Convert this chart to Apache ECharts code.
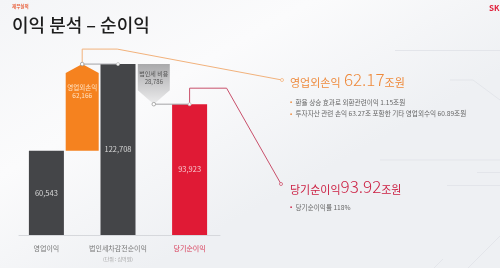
<!DOCTYPE html>
<html><head><meta charset="utf-8">
<script src="https://cdn.jsdelivr.net/npm/echarts@6/dist/echarts.min.js"></script>
<style>html,body{margin:0;padding:0;}#c{width:500px;height:268px;}</style>
</head><body><div id="c"></div>
<script>
// ---- data ----
const categories = ['영업이익', '영업외손익', '법인세차감전순이익', '법인세 비용', '당기순이익'];
const totals = [60543, null, 122708, null, 93923];      // solid bars
const deltas = [null, 62166, null, -28786, null];       // floating steps
const unitLabel = '(단위 : 십억원)';
const headline1 = ['영업외손익', '62.17', '조원'];
const bullets1 = ['환율 상승 효과로 외환관련이익 1.15조원', '투자자산 관련 손익 63.27조 포함한 기타 영업외수익 60.89조원'];
const headline2 = ['당기순이익', '93.92', '조원'];
const bullets2 = ['당기순이익률 118%'];

const FONT = '"Noto Sans CJK KR", "Noto Sans", sans-serif';
const fmt = v => String(Math.abs(v)).replace(/\B(?=(\d{3})+(?!\d))/g, ',');

// derived data for library-drawn marks
const barData = totals.map((v, i) => v == null ? '-' : {
  value: v,
  itemStyle: { color: i === 4 ? '#e01a35' : '#444548' },
  label: { color: i === 4 ? '#f7c9d0' : '#d8d8d8' }
});
// floating step: [cat, low, high, delta, name]
const stepData = [];
deltas.forEach((d, i) => {
  if (d == null) return;
  const prev = totals[i - 1], next = totals[i + 1];
  stepData.push([i, Math.min(prev, next), Math.max(prev, next), d, categories[i]]);
});
// connectors between step end and next bar: [fromCat, value, toCat]
const connData = [[1, totals[2], 2], [3, totals[4], 4]];
// callouts: [cat, value, colorIndex]
const calloutData = [[1, totals[2], 0], [4, totals[4], 1]];
const calloutEnds = [[282, 80], [281, 184]];
const calloutColors = ['#f2b27c', '#c9506b'];

const chart = echarts.init(document.getElementById('c'), null, { renderer: 'canvas' });

const deco = '#e3e5ea';
const option = {
  animation: false,
  backgroundColor: { type: 'linear', x: 0, y: 0, x2: 0.3, y2: 1, colorStops: [{ offset: 0, color: '#f4f5f7' }, { offset: 0.5, color: '#fbfbfc' }, { offset: 1, color: '#eef0f3' }] },
  grid: [
    { left: 28.5, right: 292.5, top: 40, bottom: 33 },
    { left: 19, right: 280, top: 40, bottom: 33 }
  ],
  xAxis: [
    {
      type: 'category', data: categories, gridIndex: 0,
      axisLine: { show: false }, axisTick: { show: false },
      axisLabel: {
        interval: 0, margin: 10,
        formatter: (v, i) => i % 2 === 1 ? '' : (i === 4 ? '{r|' + v + '}' : '{g|' + v + '}'),
        rich: {
          g: { color: '#777', fontSize: 7, fontFamily: FONT },
          r: { color: '#d83a57', fontSize: 7, fontFamily: FONT }
        }
      }
    },
    {
      type: 'category', data: [''], gridIndex: 1,
      axisLine: { show: true, lineStyle: { color: '#d6d8dc', width: 1 } },
      axisTick: { show: false }, axisLabel: { show: false }
    }
  ],
  yAxis: [
    { type: 'value', min: 0, max: 140000, gridIndex: 0, show: false },
    { type: 'value', gridIndex: 1, show: false }
  ],
  series: [
    { type: 'bar', xAxisIndex: 1, yAxisIndex: 1, data: [], silent: true },
    {
      type: 'bar', data: barData, barWidth: 35, z: 3,
      label: { show: true, position: 'inside', fontSize: 7.5, fontFamily: FONT, formatter: p => fmt(p.value) }
    },
    {
      type: 'custom', data: stepData, z: 3,
      encode: { x: 0, y: [1, 2] },
      renderItem: (params, api) => {
        const c = api.value(0);
        const lo = api.coord([c, api.value(1)]);
        const hi = api.coord([c, api.value(2)]);
        const x = lo[0];
        const d = api.value(3);
        const txt = api.value(4) + '\n' + fmt(d);
        if (d > 0) {
          const hw = 16.5;
          return { type: 'group', children: [
            { type: 'polygon', shape: { points: [[x - hw, lo[1]], [x - hw, hi[1] + 9], [x, hi[1]], [x + hw, hi[1] + 9], [x + hw, lo[1]]] }, style: { fill: '#f5821f' } },
            { type: 'text', x: x, y: hi[1] + 27, style: { text: '영업외손익\n' + fmt(d), fill: '#ffe2c2', font: '6.5px ' + FONT, align: 'center', verticalAlign: 'middle', textAlign: 'center', textVerticalAlign: 'middle', lineHeight: 8 } }
          ] };
        } else {
          const hw = 16;
          return { type: 'group', children: [
            { type: 'polygon', shape: { points: [[x - hw, hi[1]], [x + hw, hi[1]], [x + hw, lo[1] - 14], [x, lo[1]], [x - hw, lo[1] - 14]] },
              style: { fill: { type: 'linear', x: 0, y: 0, x2: 0, y2: 1, colorStops: [{ offset: 0, color: '#a9a9ab' }, { offset: 1, color: '#ededee' }] } } },
            { type: 'text', x: x, y: hi[1] + 14, style: { text: txt, fill: '#555', font: '6px ' + FONT, align: 'center', verticalAlign: 'middle', textAlign: 'center', textVerticalAlign: 'middle', lineHeight: 8 } }
          ] };
        }
      }
    },
    {
      type: 'custom', data: connData, z: 5,
      encode: { x: [0, 2], y: 1 },
      renderItem: (params, api) => {
        const a = api.coord([api.value(0), api.value(1)]);
        const b = api.coord([api.value(2), api.value(1)]);
        return { type: 'group', children: [
          { type: 'line', shape: { x1: a[0], y1: a[1], x2: b[0], y2: b[1] }, style: { stroke: '#a3a3a6', lineWidth: 1 } },
          { type: 'circle', shape: { cx: a[0], cy: a[1], r: 1.8 }, style: { fill: '#fff', stroke: '#999', lineWidth: 0.8 } },
          { type: 'circle', shape: { cx: b[0], cy: b[1], r: 1.5 }, style: { fill: '#fff', stroke: '#bbb', lineWidth: 0.8 } }
        ] };
      }
    },
    {
      type: 'custom', data: calloutData, z: 4,
      encode: { x: 0, y: 1 },
      renderItem: (params, api) => {
        const a = api.coord([api.value(0), api.value(1)]);
        const k = api.value(2);
        const e = calloutEnds[k];
        const up = k === 0 ? 15 : 16, right = k === 0 ? 35 : 37;
        const col = calloutColors[k];
        return { type: 'group', children: [
          { type: 'polyline', shape: { points: [[a[0], a[1]], [a[0], a[1] - up], [a[0] + right, a[1] - up], e] }, style: { stroke: col, lineWidth: 1, fill: null } },
          { type: 'circle', shape: { cx: e[0], cy: e[1], r: 1.5 }, style: { fill: '#fff', stroke: col, lineWidth: 0.8 } }
        ] };
      }
    }
  ],
  graphic: [
    // faint decorative lines
    { type: 'line', shape: { x1: 395, y1: 50.5, x2: 500, y2: 50.5 }, style: { stroke: deco, lineWidth: 1 }, z: -1 },
    { type: 'polyline', shape: { points: [[450, 80], [473, 80], [500, 100]] }, style: { stroke: deco, lineWidth: 1, fill: null }, z: -1 },
    { type: 'line', shape: { x1: 380, y1: 160, x2: 500, y2: 160 }, style: { stroke: deco, lineWidth: 1 }, z: -1 },
    { type: 'line', shape: { x1: 477, y1: 172.5, x2: 500, y2: 172.5 }, style: { stroke: deco, lineWidth: 1 }, z: -1 },
    { type: 'line', shape: { x1: 447, y1: 185.5, x2: 500, y2: 185.5 }, style: { stroke: deco, lineWidth: 1 }, z: -1 },
    { type: 'line', shape: { x1: 500, y1: 236, x2: 468, y2: 268 }, style: { stroke: deco, lineWidth: 1 }, z: -1 },
    { type: 'line', shape: { x1: 443, y1: 259, x2: 434, y2: 268 }, style: { stroke: deco, lineWidth: 1 }, z: -1 },
    // header
    { type: 'text', x: 12, y: 6, style: { text: '재무실적', fill: '#e8603c', font: 'bold 4.5px ' + FONT, verticalAlign: 'middle', textVerticalAlign: 'middle' } },
    { type: 'text', x: 12, y: 25, style: { text: '이익 분석 – 순이익', fill: '#1e1e1e', font: '500 18px ' + FONT, verticalAlign: 'middle', textVerticalAlign: 'middle' } },
    { type: 'text', x: 489, y: 8, style: { text: 'SK', fill: '#e1203c', font: 'bold 8px ' + FONT, verticalAlign: 'middle', textVerticalAlign: 'middle' } },
    // unit
    { type: 'text', x: 118, y: 259, style: { text: unitLabel, fill: '#a0a0a0', font: '5px ' + FONT, align: 'center', textAlign: 'center', verticalAlign: 'middle', textVerticalAlign: 'middle' } },
    // right side headlines
    { type: 'text', x: 290, y: 78, style: {
        text: '{a|' + headline1[0] + '} {b|' + headline1[1] + '}{a|' + headline1[2] + '}', verticalAlign: 'middle', textVerticalAlign: 'middle',
        rich: { a: { fill: '#ee8a3c', color: '#ee8a3c', font: '11px ' + FONT, verticalAlign: 'bottom', lineHeight: 20 }, b: { fill: '#ee8a3c', color: '#ee8a3c', font: '300 17px ' + FONT, verticalAlign: 'bottom', lineHeight: 20 } } } },
    { type: 'text', x: 290, y: 102, style: { text: '{d|•} {t|' + bullets1[0] + '}', verticalAlign: 'middle', textVerticalAlign: 'middle',
        rich: { d: { fill: '#ee8a3c', color: '#ee8a3c', font: '6.5px ' + FONT }, t: { fill: '#666', color: '#666', font: '6.6px ' + FONT } } } },
    { type: 'text', x: 290, y: 113.5, style: { text: '{d|•} {t|' + bullets1[1] + '}', verticalAlign: 'middle', textVerticalAlign: 'middle',
        rich: { d: { fill: '#ee8a3c', color: '#ee8a3c', font: '6.5px ' + FONT }, t: { fill: '#666', color: '#666', font: '6.6px ' + FONT } } } },
    { type: 'text', x: 290, y: 185, style: {
        text: '{a|' + headline2[0] + '}{b|' + headline2[1] + '}{a|' + headline2[2] + '}', verticalAlign: 'middle', textVerticalAlign: 'middle',
        rich: { a: { fill: '#cc2043', color: '#cc2043', font: '11px ' + FONT, verticalAlign: 'bottom', lineHeight: 20 }, b: { fill: '#cc2043', color: '#cc2043', font: '300 17px ' + FONT, verticalAlign: 'bottom', lineHeight: 20 } } } },
    { type: 'text', x: 290, y: 207, style: { text: '{d|•} {t|' + bullets2[0] + '}', verticalAlign: 'middle', textVerticalAlign: 'middle',
        rich: { d: { fill: '#cc2043', color: '#cc2043', font: '6.5px ' + FONT }, t: { fill: '#666', color: '#666', font: '6.6px ' + FONT } } } }
  ]
};
chart.setOption(option);
</script>
</body></html>
